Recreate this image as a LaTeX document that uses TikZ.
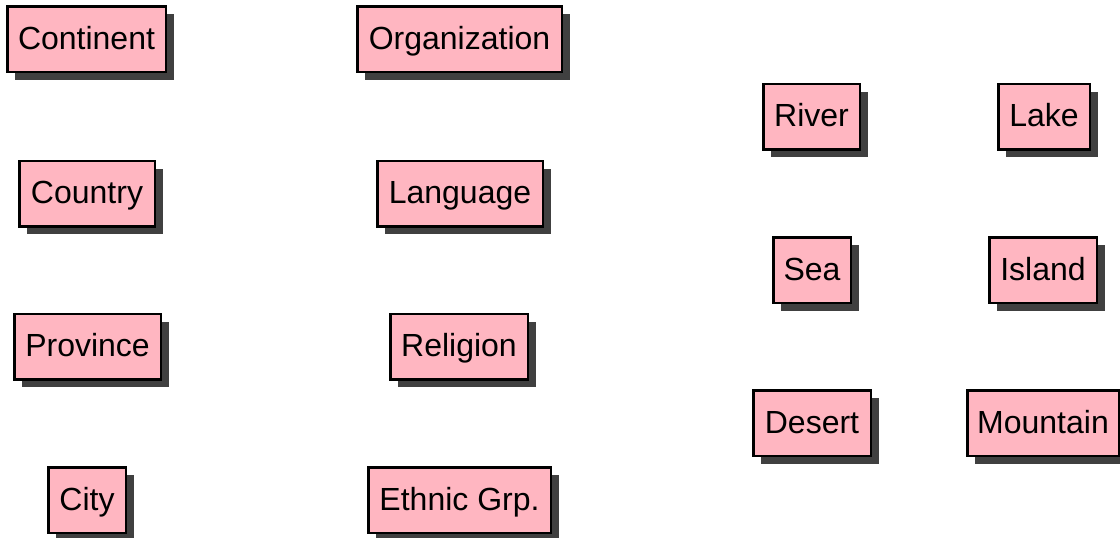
\documentclass[tikz,border=0pt]{standalone}
\usepackage{fontspec}
\setmainfont{Liberation Sans}
\usetikzlibrary{shadows}
\definecolor{boxpink}{HTML}{FFB6C1}
\definecolor{shadowgray}{HTML}{404040}
\tikzset{
  entity/.style={draw=black, line width=2.5pt, fill=boxpink,
    minimum height=65.5pt, inner xsep=0pt, inner ysep=0pt,
    text height=24pt, text depth=4pt,
    font=\fontsize{32}{38}\selectfont,
    drop shadow={shadow xshift=8pt, shadow yshift=-8pt, fill=shadowgray, opacity=1}},
  w/.style={minimum width=#1pt-2.5pt}
}
\begin{document}
\begin{tikzpicture}[x=1pt,y=-1pt]
\useasboundingbox (0,0) rectangle (1120,538);
\node[entity, w=161] (continent) at (86.5,39) {Continent};
\node[entity, w=207] (organization) at (459.5,39) {Organization};
\node[entity, w=138] (country) at (87,193.5) {Country};
\node[entity, w=168] (language) at (460,193.5) {Language};
\node[entity, w=149] (province) at (87.5,346.5) {Province};
\node[entity, w=140] (religion) at (459,346.5) {Religion};
\node[entity, w=80] (city) at (87,500) {City};
\node[entity, w=185] (ethnic) at (459.5,500) {Ethnic Grp.};
\node[entity, w=99] (river) at (811.5,116.5) {River};
\node[entity, w=94] (lake) at (1044,116.5) {Lake};
\node[entity, w=80] (sea) at (812,270) {Sea};
\node[entity, w=110] (island) at (1043,270) {Island};
\node[entity, w=120] (desert) at (812,423) {Desert};
\node[entity, w=154] (mountain) at (1043,423) {Mountain};
\end{tikzpicture}
\end{document}
